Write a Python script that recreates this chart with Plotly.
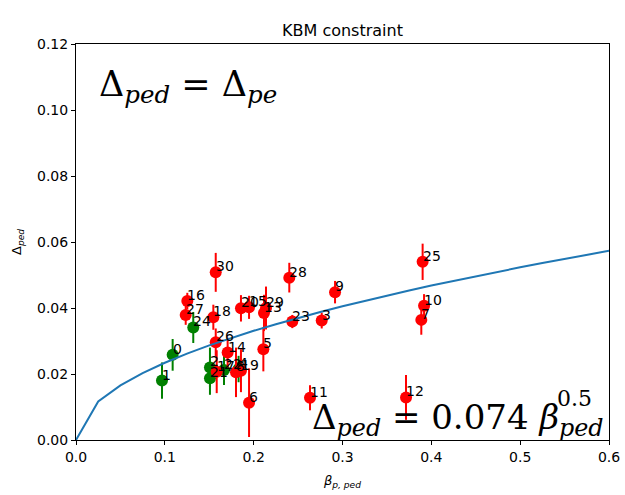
import plotly.graph_objects as go

# ---- data ----
labels = [str(i) for i in range(31)]
beta_ped = [0.1088, 0.0968, 0.1508, 0.2766, 0.1830, 0.2109, 0.1948, 0.3887, 0.1801, 0.2916,
            0.3918, 0.2634, 0.3715, 0.2116, 0.1707, 0.1948, 0.1253, 0.1584, 0.1546, 0.1857,
            0.1857, 0.1508, 0.1666, 0.2435, 0.1320, 0.3902, 0.1573, 0.1235, 0.2401, 0.2139,
            0.1573]
delta_ped = [0.0258, 0.0180, 0.0220, 0.0362, 0.0215, 0.0275, 0.0113, 0.0364, 0.0205, 0.0448,
             0.0407, 0.0128, 0.0129, 0.0385, 0.0265, 0.0402, 0.0421, 0.0207, 0.0372, 0.0210,
             0.0399, 0.0187, 0.0212, 0.0359, 0.0341, 0.0540, 0.0296, 0.0379, 0.0492, 0.0400,
             0.0508]
delta_err = [0.0048, 0.0055, 0.0060, 0.0024, 0.0040, 0.0067, 0.0104, 0.0045, 0.0075, 0.0034,
             0.0035, 0.0038, 0.0068, 0.0055, 0.0045, 0.0035, 0.0025, 0.0065, 0.0038, 0.0065,
             0.0040, 0.0050, 0.0045, 0.0020, 0.0047, 0.0055, 0.0042, 0.0030, 0.0045, 0.0065,
             0.0059]
group = ["g", "g", "g", "r", "g", "r", "r", "r", "r", "r",
         "r", "r", "r", "r", "r", "r", "r", "r", "r", "r",
         "r", "g", "g", "r", "g", "r", "r", "r", "r", "r",
         "r"]

fit_beta = [0.0, 0.025, 0.05, 0.075, 0.1, 0.125, 0.15, 0.175, 0.2, 0.225, 0.25, 0.275, 0.3,
            0.325, 0.35, 0.375, 0.4, 0.425, 0.45, 0.475, 0.5, 0.525, 0.55, 0.575, 0.6]
fit_delta = [0.0, 0.0117, 0.01655, 0.02027, 0.0234, 0.02616, 0.02866, 0.03096, 0.03309, 0.0351,
             0.037, 0.03881, 0.04053, 0.04219, 0.04378, 0.04532, 0.0468, 0.04824, 0.04964,
             0.051, 0.05233, 0.05362, 0.05488, 0.05611, 0.05732]

x_ticks = [0.0, 0.1, 0.2, 0.3, 0.4, 0.5, 0.6]
x_tick_text = ["0.0", "0.1", "0.2", "0.3", "0.4", "0.5", "0.6"]
y_ticks = [0.0, 0.02, 0.04, 0.06, 0.08, 0.10, 0.12]
y_tick_text = ["0.00", "0.02", "0.04", "0.06", "0.08", "0.10", "0.12"]

colors = {"g": "#008000", "r": "#ff0000"}

fig = go.Figure()

for g in ["g", "r"]:
    idx = [i for i, gg in enumerate(group) if gg == g]
    fig.add_trace(go.Scatter(
        x=[beta_ped[i] for i in idx],
        y=[delta_ped[i] for i in idx],
        mode="markers",
        marker=dict(color=colors[g], size=12, line=dict(width=0)),
        error_y=dict(type="data", array=[delta_err[i] for i in idx],
                     color=colors[g], thickness=2, width=0),
        showlegend=False,
        hoverinfo="skip",
    ))

fig.add_trace(go.Scatter(
    x=fit_beta, y=fit_delta, mode="lines",
    line=dict(color="#1f77b4", width=2),
    showlegend=False,
))

font_family = "DejaVu Sans"
for lab, xv, yv in zip(labels, beta_ped, delta_ped):
    fig.add_annotation(x=xv, y=yv, text=lab, showarrow=False,
                       xanchor="left", yanchor="bottom", yshift=-4, xshift=-2,
                       font=dict(family=font_family, size=14, color="#000000"))

serif = "DejaVu Serif"
fig.add_annotation(xref="paper", yref="paper", x=0.04, y=0.955,
                   xanchor="left", yanchor="top", showarrow=False,
                   text="Δ<sub><i>ped</i></sub> = Δ<sub><i>pe</i></sub>",
                   font=dict(family=serif, size=35, color="#000000"))
fig.add_annotation(xref="paper", yref="paper", x=0.995, y=-0.01,
                   xanchor="right", yanchor="bottom", showarrow=False,
                   text="Δ<sub><i>ped</i></sub> = 0.074 <i>β</i><sub><i>ped</i></sub>",
                   font=dict(family=serif, size=34, color="#000000"))
fig.add_annotation(xref="paper", yref="paper", x=0.972, y=0.068,
                   xanchor="right", yanchor="bottom", showarrow=False,
                   text="0.5",
                   font=dict(family=serif, size=22, color="#000000"))

axis_common = dict(showgrid=False, zeroline=False, showline=True, linecolor="black",
                   linewidth=1, mirror=True, ticks="outside", ticklen=4, tickwidth=1,
                   tickcolor="black", automargin=False,
                   tickfont=dict(family=font_family, size=14, color="#000000"))

fig.update_layout(
    width=625, height=495,
    margin=dict(l=76, r=16, t=44, b=55),
    paper_bgcolor="white", plot_bgcolor="white",
    title=dict(text="KBM constraint", x=0.5, xref="paper", xanchor="center",
               y=1 - 30 / 495, yanchor="middle", automargin=False,
               font=dict(family=font_family, size=16, color="#000000")),
    xaxis=dict(range=[0, 0.6], tickvals=x_ticks, ticktext=x_tick_text,
               title=dict(text="<i>β</i><sub><i>p, ped</i></sub>", standoff=12,
                          font=dict(family=font_family, size=13, color="#000000")),
               **axis_common),
    yaxis=dict(range=[0, 0.12], tickvals=y_ticks, ticktext=y_tick_text,
               title=dict(text="Δ<sub><i>ped</i></sub>", standoff=12,
                          font=dict(family=font_family, size=13, color="#000000")),
               **axis_common),
)

fig.write_html("out.html", config={"displayModeBar": False},
               post_script="document.body.style.margin='0px';")
